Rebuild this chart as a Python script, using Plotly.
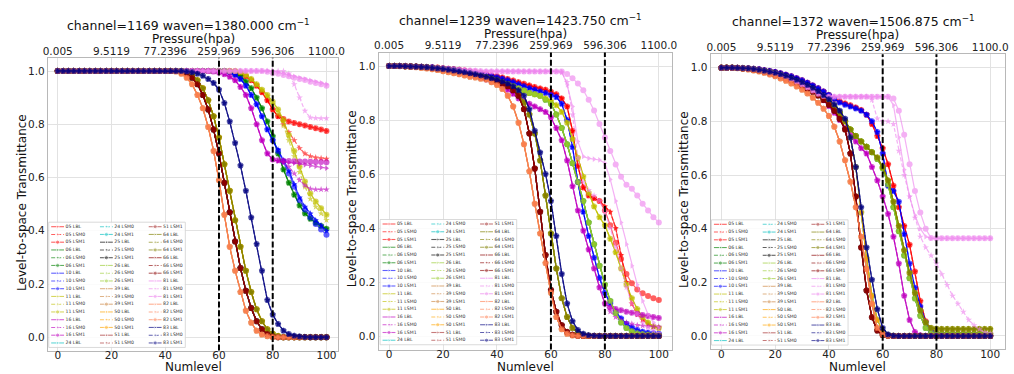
import plotly.graph_objects as go

W, H = 1014, 374

# ---------------- data ----------------
LEVELS = list(range(0, 101, 2))
LEVEL_TICKS = [0, 20, 40, 60, 80, 100]
PRESSURE_TICKS = ['0.005', '9.5119', '77.2396', '259.969', '596.306', '1100.0']
Y_TICKS = [0.0, 0.2, 0.4, 0.6, 0.8, 1.0]
PROFILES = ['05', '06', '10', '11', '16', '24', '25', '26', '39', '50', '51', '64', '66', '81', '82', '83']
VARIANTS = ['LBL', 'LSM0', 'LSM1']
CHANNELS = [1169, 1239, 1372]
WAVENUMBERS = ['1380.000', '1423.750', '1506.875']
MARKED_LEVELS = [60, 80]

# channel 1169
c1_early = [1.0]*22 + [0.998, 0.99, 0.975, 0.95, 0.91, 0.86, 0.79, 0.70, 0.59, 0.46, 0.34, 0.25, 0.17, 0.10, 0.055, 0.025, 0.01, 0.004] + [0.0]*11
c1_mid = [1.0]*23 + [0.997, 0.99, 0.975, 0.95, 0.91, 0.855, 0.78, 0.69, 0.58, 0.47, 0.36, 0.26, 0.175, 0.11, 0.06, 0.03, 0.012, 0.004] + [0.0]*10
c1_late = [1.0]*24 + [0.995, 0.985, 0.965, 0.935, 0.89, 0.83, 0.75, 0.65, 0.55, 0.44, 0.34, 0.25, 0.17, 0.105, 0.06, 0.03, 0.013, 0.005] + [0.0]*9
c1_navy = [1.0]*24 + [0.998, 0.995, 0.99, 0.982, 0.97, 0.955, 0.93, 0.88, 0.81, 0.73, 0.645, 0.55, 0.45, 0.35, 0.25, 0.14, 0.085, 0.05, 0.025, 0.012, 0.006, 0.003, 0.001] + [0.0]*4
c1_mag = [1.0]*29 + [0.998, 0.994, 0.988, 0.978, 0.965, 0.94, 0.91, 0.86, 0.80, 0.74, 0.69, 0.668, 0.662, 0.66, 0.657, 0.654, 0.651, 0.648, 0.645, 0.642, 0.638, 0.635]
c1_mag_lsm0 = [1.0]*29 + [0.998, 0.994, 0.988, 0.978, 0.965, 0.94, 0.91, 0.86, 0.80, 0.74, 0.69, 0.668, 0.662, 0.655, 0.64, 0.615, 0.59, 0.57, 0.558, 0.555, 0.555, 0.555]
c1_mag_lsm1 = [1.0]*29 + [0.998, 0.994, 0.988, 0.978, 0.965, 0.94, 0.91, 0.86, 0.80, 0.74, 0.69, 0.668, 0.665, 0.663, 0.662, 0.661, 0.66, 0.66, 0.659, 0.658, 0.658, 0.657]
c1_blue = [1.0]*32 + [0.995, 0.985, 0.97, 0.945, 0.91, 0.875, 0.83, 0.78, 0.74, 0.705, 0.665, 0.625, 0.575, 0.525, 0.49, 0.465, 0.44, 0.42, 0.40]
c1_blue_lsm1 = [1.0]*32 + [0.995, 0.985, 0.97, 0.945, 0.91, 0.875, 0.83, 0.78, 0.74, 0.70, 0.66, 0.615, 0.565, 0.515, 0.48, 0.45, 0.425, 0.405, 0.385]
c1_green = [1.0]*32 + [0.997, 0.99, 0.98, 0.96, 0.935, 0.90, 0.86, 0.81, 0.755, 0.69, 0.63, 0.58, 0.535, 0.495, 0.465, 0.445, 0.43, 0.418, 0.408]
c1_yellow = [1.0]*34 + [0.995, 0.985, 0.97, 0.95, 0.93, 0.91, 0.885, 0.855, 0.815, 0.76, 0.70, 0.64, 0.585, 0.54, 0.51, 0.485, 0.46]
c1_yellow_lsm0 = [1.0]*34 + [0.995, 0.985, 0.97, 0.95, 0.93, 0.905, 0.875, 0.84, 0.795, 0.74, 0.68, 0.62, 0.565, 0.52, 0.49, 0.465, 0.44]
c1_red = [1.0]*33 + [0.998, 0.99, 0.98, 0.965, 0.945, 0.92, 0.89, 0.855, 0.83, 0.82, 0.81, 0.805, 0.80, 0.795, 0.79, 0.785, 0.78, 0.775]
c1_red_lsm0 = [1.0]*33 + [0.998, 0.99, 0.98, 0.965, 0.945, 0.92, 0.89, 0.855, 0.83, 0.80, 0.77, 0.74, 0.71, 0.69, 0.68, 0.675, 0.672, 0.67]
c1_vio_lbl = [1.0]*41 + [0.995, 0.99, 0.985, 0.98, 0.975, 0.97, 0.965, 0.96, 0.955, 0.95]
c1_vio_lsm0 = [1.0]*43 + [0.99, 0.95, 0.90, 0.85, 0.825, 0.823, 0.822, 0.822]
c1_vio_lsm1 = [1.0]*39 + [0.997, 0.993, 0.99, 0.985, 0.98, 0.975, 0.97, 0.966, 0.96, 0.955, 0.95, 0.945]

# channel 1239
c2_early = [1.0, 1.0, 0.999, 0.998, 0.997, 0.995, 0.993, 0.991, 0.988, 0.985,
            0.981, 0.977, 0.973, 0.969, 0.965, 0.96, 0.957, 0.953, 0.95, 0.94,
            0.93, 0.915, 0.89, 0.85, 0.79, 0.71, 0.61, 0.49, 0.38, 0.27,
            0.16, 0.07, 0.025, 0.008, 0.002] + [0.0]*16
c2_mid = [1.0, 1.0, 1.0, 0.999, 0.998, 0.997, 0.996, 0.994, 0.992, 0.99,
          0.987, 0.984, 0.981, 0.978, 0.974, 0.97, 0.965, 0.96, 0.955, 0.95,
          0.943, 0.935, 0.925, 0.91, 0.89, 0.84, 0.75, 0.62, 0.46, 0.30,
          0.17, 0.09, 0.04, 0.015, 0.005, 0.001] + [0.0]*15
c2_late = [1.0, 1.0, 1.0, 0.999, 0.998, 0.997, 0.996, 0.995, 0.993, 0.991,
           0.988, 0.985, 0.982, 0.979, 0.976, 0.972, 0.968, 0.963, 0.958, 0.953,
           0.947, 0.94, 0.93, 0.915, 0.895, 0.865, 0.82, 0.75, 0.65, 0.52,
           0.38, 0.25, 0.14, 0.07, 0.03, 0.012, 0.004, 0.001] + [0.0]*13
c2_navy = [1.0, 1.0, 1.0, 0.999, 0.998, 0.997, 0.996, 0.995, 0.993, 0.991,
           0.989, 0.986, 0.983, 0.98, 0.977, 0.973, 0.969, 0.965, 0.96, 0.955,
           0.95, 0.943, 0.935, 0.925, 0.91, 0.89, 0.84, 0.76, 0.68, 0.60,
           0.50, 0.37, 0.23, 0.12, 0.055, 0.022, 0.008, 0.003, 0.001] + [0.0]*12
c2_mag = [1.0, 1.0, 1.0, 0.999, 0.998, 0.997, 0.996, 0.994, 0.992, 0.99,
          0.987, 0.984, 0.98, 0.976, 0.972, 0.967, 0.962, 0.956, 0.95, 0.943,
          0.935, 0.925, 0.912, 0.897, 0.88, 0.87, 0.86, 0.85, 0.84, 0.83,
          0.81, 0.77, 0.725, 0.65, 0.555, 0.465, 0.39, 0.32, 0.25, 0.18,
          0.12, 0.105, 0.1, 0.095, 0.09, 0.086, 0.082, 0.078, 0.074, 0.07, 0.067]
c2_mag_lsm0 = [1.0, 1.0, 1.0, 0.999, 0.998, 0.997, 0.996, 0.994, 0.992, 0.99,
               0.987, 0.984, 0.98, 0.976, 0.972, 0.967, 0.962, 0.956, 0.95, 0.943,
               0.935, 0.925, 0.912, 0.897, 0.88, 0.87, 0.86, 0.85, 0.84, 0.83,
               0.81, 0.77, 0.725, 0.65, 0.555, 0.465, 0.39, 0.32, 0.25, 0.18,
               0.12, 0.09, 0.07, 0.06, 0.05, 0.045, 0.04, 0.038, 0.036, 0.035, 0.034]
c2_blue = [1.0, 1.0, 1.0, 1.0, 0.999, 0.998, 0.997, 0.996, 0.995, 0.993,
           0.991, 0.989, 0.987, 0.984, 0.981, 0.978, 0.975, 0.971, 0.967, 0.963,
           0.958, 0.953, 0.947, 0.94, 0.932, 0.925, 0.918, 0.912, 0.906, 0.90,
           0.893, 0.885, 0.86, 0.80, 0.70, 0.57, 0.46, 0.37, 0.29, 0.215,
           0.16, 0.12, 0.09, 0.065, 0.045, 0.032, 0.022, 0.016, 0.012, 0.01, 0.008]
c2_green = [1.0, 1.0, 1.0, 0.999, 0.998, 0.997, 0.996, 0.995, 0.993, 0.991,
            0.989, 0.986, 0.983, 0.98, 0.976, 0.972, 0.968, 0.963, 0.958, 0.952,
            0.946, 0.94, 0.933, 0.925, 0.917, 0.909, 0.90, 0.895, 0.89, 0.875,
            0.86, 0.82, 0.77, 0.71, 0.64, 0.57, 0.50, 0.42, 0.34, 0.26,
            0.19, 0.13, 0.085, 0.05, 0.03, 0.018, 0.01, 0.007, 0.005, 0.004, 0.003]
c2_yellow = [1.0, 1.0, 1.0, 0.999, 0.998, 0.997, 0.996, 0.995, 0.993, 0.991,
             0.989, 0.986, 0.983, 0.98, 0.976, 0.972, 0.968, 0.963, 0.958, 0.952,
             0.946, 0.94, 0.933, 0.925, 0.917, 0.909, 0.90, 0.895, 0.89, 0.88,
             0.87, 0.855, 0.83, 0.79, 0.73, 0.66, 0.59, 0.53, 0.48, 0.44,
             0.41, 0.36, 0.31, 0.25, 0.19, 0.14, 0.10, 0.07, 0.05, 0.035, 0.03]
c2_red_lbl = [1.0, 1.0, 1.0, 1.0, 0.999, 0.998, 0.997, 0.996, 0.995, 0.994,
              0.992, 0.99, 0.988, 0.986, 0.983, 0.98, 0.977, 0.974, 0.97, 0.966,
              0.962, 0.957, 0.952, 0.946, 0.94, 0.934, 0.928, 0.922, 0.917, 0.912,
              0.905, 0.895, 0.88, 0.85, 0.76, 0.63, 0.55, 0.52, 0.51, 0.50,
              0.48, 0.46, 0.40, 0.30, 0.20, 0.12, 0.08, 0.06, 0.045, 0.035, 0.03]
c2_red_lsm1 = [1.0, 1.0, 1.0, 1.0, 0.999, 0.998, 0.997, 0.996, 0.995, 0.994,
               0.992, 0.99, 0.988, 0.986, 0.983, 0.98, 0.977, 0.974, 0.97, 0.966,
               0.962, 0.957, 0.952, 0.946, 0.94, 0.934, 0.928, 0.922, 0.917, 0.912,
               0.905, 0.895, 0.88, 0.85, 0.76, 0.63, 0.55, 0.52, 0.51, 0.50,
               0.465, 0.41, 0.345, 0.285, 0.23, 0.195, 0.172, 0.158, 0.148, 0.14, 0.133]
c2_vio_lbl = [1.0, 1.0, 1.0, 0.999, 0.998, 0.997, 0.996, 0.995, 0.993, 0.992,
              0.99, 0.988, 0.986, 0.985, 0.984, 0.983, 0.982, 0.981, 0.98, 0.98,
              0.98, 0.98, 0.98, 0.98, 0.98, 0.98, 0.98, 0.98, 0.98, 0.98,
              0.98, 0.98, 0.98, 0.93, 0.85, 0.72, 0.665, 0.658, 0.655, 0.652,
              0.64, 0.58, 0.50, 0.42, 0.34, 0.26, 0.19, 0.13, 0.08, 0.05, 0.03]
c2_vio_lsm0 = [1.0, 1.0, 1.0, 0.999, 0.998, 0.997, 0.996, 0.995, 0.993, 0.992,
               0.99, 0.988, 0.986, 0.985, 0.984, 0.983, 0.982, 0.981, 0.98, 0.98,
               0.98, 0.98, 0.98, 0.98, 0.98, 0.98, 0.98, 0.98, 0.98, 0.98,
               0.98, 0.98, 0.975, 0.94, 0.82, 0.66, 0.57, 0.54, 0.52, 0.50,
               0.46, 0.40, 0.33, 0.25, 0.18, 0.12, 0.08, 0.05, 0.03, 0.02, 0.01]
c2_vio_lsm1 = [1.0, 1.0, 1.0, 0.999, 0.998, 0.997, 0.996, 0.995, 0.993, 0.992,
               0.99, 0.988, 0.986, 0.985, 0.984, 0.983, 0.982, 0.981, 0.98, 0.98,
               0.98, 0.98, 0.98, 0.98, 0.98, 0.98, 0.98, 0.98, 0.98, 0.98,
               0.98, 0.98, 0.98, 0.97, 0.955, 0.935, 0.91, 0.875, 0.835, 0.785,
               0.735, 0.685, 0.635, 0.59, 0.56, 0.545, 0.52, 0.49, 0.465, 0.44, 0.42]

# channel 1372
c3_early = [1.0, 1.0, 0.999, 0.998, 0.996, 0.993, 0.99, 0.986, 0.981, 0.975,
            0.968, 0.96, 0.951, 0.941, 0.93, 0.918, 0.904, 0.888, 0.869, 0.847,
            0.82, 0.78, 0.725, 0.655, 0.575, 0.48, 0.37, 0.25, 0.12, 0.03,
            0.006, 0.001] + [0.0]*19
c3_mid = [1.0, 1.0, 1.0, 0.999, 0.997, 0.995, 0.992, 0.989, 0.985, 0.98,
          0.974, 0.967, 0.96, 0.952, 0.943, 0.933, 0.922, 0.91, 0.896, 0.88,
          0.862, 0.84, 0.81, 0.77, 0.68, 0.52, 0.33, 0.17, 0.07, 0.02,
          0.004, 0.001] + [0.0]*19
c3_late = [1.0, 1.0, 1.0, 0.999, 0.998, 0.996, 0.994, 0.991, 0.987, 0.983,
           0.978, 0.972, 0.965, 0.958, 0.95, 0.941, 0.931, 0.92, 0.907, 0.893,
           0.877, 0.858, 0.835, 0.80, 0.74, 0.63, 0.46, 0.29, 0.15, 0.06,
           0.018, 0.004, 0.001] + [0.0]*18
c3_navy = [1.0, 1.0, 1.0, 0.999, 0.998, 0.997, 0.995, 0.992, 0.989, 0.985,
           0.981, 0.976, 0.97, 0.963, 0.955, 0.946, 0.936, 0.925, 0.912, 0.898,
           0.882, 0.863, 0.84, 0.81, 0.74, 0.63, 0.48, 0.33, 0.21, 0.10,
           0.03, 0.006, 0.001] + [0.0]*18
c3_mag = [1.0, 1.0, 1.0, 0.999, 0.998, 0.996, 0.994, 0.991, 0.988, 0.984,
          0.979, 0.973, 0.966, 0.958, 0.949, 0.939, 0.927, 0.913, 0.897, 0.879,
          0.857, 0.832, 0.805, 0.775, 0.75, 0.725, 0.70, 0.68, 0.63, 0.58,
          0.52, 0.455, 0.37, 0.27, 0.15, 0.06, 0.015, 0.003] + [0.0]*13
c3_green = [1.0, 1.0, 1.0, 0.999, 0.998, 0.996, 0.994, 0.991, 0.988, 0.984,
            0.979, 0.973, 0.966, 0.958, 0.949, 0.939, 0.928, 0.915, 0.901, 0.886,
            0.87, 0.852, 0.83, 0.80, 0.77, 0.745, 0.725, 0.705, 0.685, 0.66,
            0.625, 0.565, 0.48, 0.39, 0.30, 0.215, 0.14, 0.075, 0.03, 0.012,
            0.008] + [0.007]*10
c3_yellow = [1.0, 1.0, 1.0, 0.999, 0.998, 0.996, 0.994, 0.991, 0.988, 0.984,
             0.979, 0.973, 0.966, 0.958, 0.949, 0.939, 0.928, 0.915, 0.901, 0.886,
             0.87, 0.852, 0.83, 0.80, 0.77, 0.745, 0.725, 0.705, 0.685, 0.665,
             0.63, 0.58, 0.50, 0.41, 0.32, 0.235, 0.16, 0.095, 0.05, 0.03,
             0.027] + [0.026]*10
c3_blue = [1.0, 1.0, 1.0, 1.0, 0.999, 0.998, 0.996, 0.994, 0.991, 0.988,
           0.984, 0.979, 0.974, 0.968, 0.961, 0.953, 0.944, 0.934, 0.923, 0.911,
           0.898, 0.884, 0.87, 0.862, 0.855, 0.848, 0.84, 0.825, 0.80, 0.76,
           0.68, 0.56, 0.54, 0.50, 0.38, 0.27, 0.18, 0.11, 0.05, 0.018,
           0.006, 0.002] + [0.0]*9
c3_red = [1.0, 1.0, 1.0, 1.0, 0.999, 0.998, 0.996, 0.994, 0.991, 0.988,
          0.984, 0.979, 0.974, 0.968, 0.961, 0.953, 0.944, 0.934, 0.923, 0.911,
          0.898, 0.884, 0.875, 0.867, 0.86, 0.852, 0.842, 0.825, 0.79, 0.745,
          0.70, 0.64, 0.56, 0.48, 0.41, 0.34, 0.24, 0.13, 0.055, 0.02,
          0.01] + [0.008]*10
c3_vio_lbl = [1.0, 1.0, 1.0, 0.999, 0.998, 0.996, 0.994, 0.991, 0.987, 0.983,
              0.978, 0.972, 0.965, 0.957, 0.948, 0.938, 0.927, 0.915, 0.903, 0.895] + [0.892]*12 + \
             [0.86, 0.74, 0.62, 0.52, 0.45, 0.40, 0.37, 0.364] + [0.364]*11
c3_vio_lsm0 = [1.0, 1.0, 1.0, 0.999, 0.998, 0.996, 0.994, 0.991, 0.987, 0.983,
               0.978, 0.972, 0.965, 0.957, 0.948, 0.938, 0.927, 0.915, 0.903, 0.895] + [0.892]*8 + \
              [0.88, 0.81, 0.80, 0.80, 0.79, 0.69, 0.60, 0.52, 0.44, 0.37, 0.33, 0.30,
               0.27, 0.23, 0.19, 0.15, 0.12, 0.09, 0.06, 0.04, 0.025, 0.015, 0.01]
c3_vio_lsm1 = [1.0, 1.0, 1.0, 0.999, 0.998, 0.996, 0.994, 0.991, 0.987, 0.983,
               0.978, 0.972, 0.965, 0.957, 0.948, 0.938, 0.927, 0.915, 0.903, 0.895] + [0.892]*12 + \
              [0.885, 0.84, 0.75, 0.64, 0.54, 0.46, 0.40, 0.365] + [0.364]*11

# (LBL, LSM0, LSM1) per profile
SERIES = {
    1169: {
        '05': (c1_red, c1_red_lsm0, c1_red), '06': (c1_green, c1_green, c1_green),
        '10': (c1_blue, c1_blue, c1_blue_lsm1), '11': (c1_yellow, c1_yellow_lsm0, c1_yellow),
        '16': (c1_mag, c1_mag_lsm0, c1_mag_lsm1), '24': (c1_mid, c1_mid, c1_mid),
        '25': (c1_mid, c1_mid, c1_mid), '26': (c1_late, c1_late, c1_late),
        '39': (c1_early, c1_early, c1_early), '50': (c1_late, c1_late, c1_late),
        '51': (c1_mid, c1_mid, c1_mid), '64': (c1_late, c1_late, c1_late),
        '66': (c1_mid, c1_mid, c1_mid), '81': (c1_vio_lbl, c1_vio_lsm0, c1_vio_lsm1),
        '82': (c1_early, c1_early, c1_early), '83': (c1_navy, c1_navy, c1_navy),
    },
    1239: {
        '05': (c2_red_lbl, c2_red_lbl, c2_red_lsm1), '06': (c2_green, c2_green, c2_green),
        '10': (c2_blue, c2_blue, c2_blue), '11': (c2_yellow, c2_yellow, c2_yellow),
        '16': (c2_mag, c2_mag_lsm0, c2_mag), '24': (c2_late, c2_late, c2_late),
        '25': (c2_mid, c2_mid, c2_mid), '26': (c2_green, c2_green, c2_green),
        '39': (c2_early, c2_early, c2_early), '50': (c2_late, c2_late, c2_late),
        '51': (c2_mid, c2_mid, c2_mid), '64': (c2_late, c2_late, c2_late),
        '66': (c2_mid, c2_mid, c2_mid), '81': (c2_vio_lbl, c2_vio_lsm0, c2_vio_lsm1),
        '82': (c2_early, c2_early, c2_early), '83': (c2_navy, c2_navy, c2_navy),
    },
    1372: {
        '05': (c3_red, c3_red, c3_red), '06': (c3_green, c3_green, c3_green),
        '10': (c3_blue, c3_blue, c3_blue), '11': (c3_yellow, c3_yellow, c3_yellow),
        '16': (c3_mag, c3_mag, c3_mag), '24': (c3_late, c3_late, c3_late),
        '25': (c3_mid, c3_mid, c3_mid), '26': (c3_green, c3_green, c3_green),
        '39': (c3_early, c3_early, c3_early), '50': (c3_late, c3_late, c3_late),
        '51': (c3_mid, c3_mid, c3_mid), '64': (c3_yellow, c3_yellow, c3_yellow),
        '66': (c3_mid, c3_mid, c3_mid), '81': (c3_vio_lbl, c3_vio_lsm0, c3_vio_lsm1),
        '82': (c3_early, c3_early, c3_early), '83': (c3_navy, c3_navy, c3_navy),
    },
}
for ch in SERIES:
    for p in SERIES[ch]:
        for v in SERIES[ch][p]:
            assert len(v) == len(LEVELS), (ch, p, len(v))

# ---------------- styles ----------------
COLORS = {
    '05': '#ff0000', '06': '#008000', '10': '#0000ff', '11': '#bfbf00', '16': '#bf00bf',
    '24': '#00bfbf', '25': '#000000', '26': '#9acd32', '39': '#cd853f', '50': '#ffa500',
    '51': '#a52a2a', '64': '#808000', '66': '#8b0000', '81': '#ee82ee', '82': '#ff7f50',
    '83': '#000080',
}
VSTYLE = {
    'LBL': dict(symbol='triangle-right', size=5, dash='solid', lsize=3.5),
    'LSM0': dict(symbol='star', size=5, dash='4px,2px', lsize=3.5),
    'LSM1': dict(symbol='circle', size=6, dash='solid', lsize=4.2),
}
FONT = 'DejaVu Sans'
PANELS = [
    dict(left=43.3, right=337.0, top=57.7, bottom=350.6, x0px=53.3, x100px=325.0,
         title=(186.0, 25.0), press=(190.8, 39.3), ytitle_x=17.0, leg=(46.7, 226.7)),
    dict(left=377.7, right=674.0, top=52.5, bottom=349.5, x0px=388.3, x100px=661.0,
         title=(521.0, 20.0), press=(526.7, 33.8), ytitle_x=351.0, leg=(381.7, 224.0)),
    dict(left=713.3, right=1010.5, top=54.3, bottom=349.4, x0px=724.3, x100px=996.0,
         title=(857.5, 20.7), press=(862.0, 35.0), ytitle_x=686.7, leg=(716.7, 224.3)),
]
ROW_H = 7.75
COL_W = 49.3

fig = go.Figure()
layout = dict(width=W, height=H, margin=dict(l=0, r=0, t=0, b=0),
              paper_bgcolor='white', plot_bgcolor='rgba(0,0,0,0)',
              showlegend=False, hovermode=False, font=dict(family=FONT, color='#111'))
annotations = []
shapes = []

for pi, ch in enumerate(CHANNELS):
    P = PANELS[pi]
    sfx = '' if pi == 0 else str(pi + 1)
    xa, ya = 'x' + sfx, 'y' + sfx
    s = (P['x100px'] - P['x0px']) / 100.0
    xr = [(P['left'] - P['x0px']) / s, (P['right'] - P['x0px']) / s]
    xdom = [P['left'] / W, P['right'] / W]
    ydom = [1 - P['bottom'] / H, 1 - P['top'] / H]
    axstyle = dict(showgrid=True, gridcolor='#e3e3e3', gridwidth=1, showline=True,
                   linecolor='#b8b8b8', linewidth=1, mirror=True, zeroline=False,
                   ticks='', tickfont=dict(size=10.5, color='#222'), fixedrange=True)
    layout['xaxis' + sfx] = dict(domain=xdom, range=xr, tickvals=LEVEL_TICKS, anchor=ya,
                                 ticklabelstandoff=-5, **axstyle)
    layout['yaxis' + sfx] = dict(domain=ydom, range=[-0.05, 1.05], tickvals=Y_TICKS,
                                 ticktext=['%.1f' % t for t in Y_TICKS], anchor=xa, **axstyle)
    top_id = str(pi + 4)
    layout['xaxis' + top_id] = dict(overlaying=xa, side='top', range=xr, tickvals=LEVEL_TICKS,
                                    ticktext=PRESSURE_TICKS, showgrid=False, showline=False,
                                    zeroline=False, ticks='', anchor=ya,
                                    tickfont=dict(size=10.5, color='#222'), fixedrange=True)
    fig.add_trace(go.Scatter(x=[LEVEL_TICKS[0], LEVEL_TICKS[-1]], y=[0, 0], xaxis='x' + top_id,
                             yaxis=ya, mode='markers', marker=dict(opacity=0, size=1),
                             hoverinfo='skip', showlegend=False))

    for prof in PROFILES:
        for vi, var in enumerate(VARIANTS):
            st = VSTYLE[var]
            fig.add_trace(go.Scatter(
                x=LEVELS, y=SERIES[ch][prof][vi], xaxis=xa, yaxis=ya, mode='lines+markers',
                line=dict(color=COLORS[prof], width=1.2, dash=st['dash']),
                marker=dict(symbol=st['symbol'], size=st['size'], color=COLORS[prof]),
                opacity=0.62, hoverinfo='skip', showlegend=False))

    for lv in MARKED_LEVELS:
        shapes.append(dict(type='line', xref=xa, yref=ya + ' domain', x0=lv, x1=lv, y0=0, y1=1,
                           line=dict(color='black', width=2, dash='6px,2.6px'), layer='above'))

    annotations.append(dict(x=P['title'][0] / W, y=1 - P['title'][1] / H, xref='paper', yref='paper',
                            text='channel=%d waven=%s cm<sup>\u22121</sup>' % (ch, WAVENUMBERS[pi]),
                            showarrow=False, xanchor='center', yanchor='middle',
                            font=dict(size=12.5, color='#111')))
    annotations.append(dict(x=P['press'][0] / W, y=1 - P['press'][1] / H, xref='paper', yref='paper',
                            text='Pressure(hpa)', showarrow=False, xanchor='center', yanchor='middle',
                            font=dict(size=12, color='#111')))
    annotations.append(dict(x=(P['left'] + P['right']) / 2 / W, y=1 - 367.3 / H, xref='paper', yref='paper',
                            text='Numlevel', showarrow=False, xanchor='center', yanchor='middle',
                            font=dict(size=12, color='#111')))
    annotations.append(dict(x=P['ytitle_x'] / W, y=1 - ((P['top'] + P['bottom']) / 2 - 2) / H,
                            xref='paper', yref='paper', text='Level-to-space Transmittance',
                            showarrow=False, textangle=-90, xanchor='center', yanchor='middle',
                            font=dict(size=12, color='#111')))

# ---------------- legends (drawn in a pixel-space overlay axis) ----------------
layout['xaxis7'] = dict(domain=[0, 1], range=[0, W], visible=False, fixedrange=True, anchor='y7')
layout['yaxis7'] = dict(domain=[0, 1], range=[H, 0], visible=False, fixedrange=True, anchor='x7')

for pi, ch in enumerate(CHANNELS):
    lx, ly = PANELS[pi]['leg']
    bx0, bx1 = lx - 2.5, lx + 2 * COL_W + 37
    by0, by1 = ly - 4.5, ly + 15 * ROW_H + 4.5
    fig.add_trace(go.Scatter(x=[bx0, bx1, bx1, bx0, bx0], y=[by0, by0, by1, by1, by0],
                             xaxis='x7', yaxis='y7', mode='lines', fill='toself',
                             fillcolor='rgba(255,255,255,0.85)',
                             line=dict(color='#d0d0d0', width=0.8), hoverinfo='skip', showlegend=False))
    tx, ty, tt = [], [], []
    idx = 0
    for prof in PROFILES:
        for var in VARIANTS:
            col, row = idx // 16, idx % 16
            x0 = lx + col * COL_W
            yy = ly + row * ROW_H
            st = VSTYLE[var]
            fig.add_trace(go.Scatter(
                x=[x0, x0 + 6.5, x0 + 13], y=[yy, yy, yy], xaxis='x7', yaxis='y7',
                mode='lines+markers',
                line=dict(color=COLORS[prof], width=1.1, dash=st['dash']),
                marker=dict(symbol=st['symbol'], size=[0, st['lsize'], 0], color=COLORS[prof]),
                opacity=0.62, hoverinfo='skip', showlegend=False))
            tx.append(x0 + 14.5)
            ty.append(yy)
            tt.append('%s %s' % (prof, var))
            idx += 1
    fig.add_trace(go.Scatter(x=tx, y=ty, text=tt, mode='text', textposition='middle right',
                             textfont=dict(size=4.6, color='#333', family=FONT),
                             xaxis='x7', yaxis='y7', hoverinfo='skip', showlegend=False))

layout['annotations'] = annotations
layout['shapes'] = shapes
fig.update_layout(**layout)
fig.write_html('out.html')
